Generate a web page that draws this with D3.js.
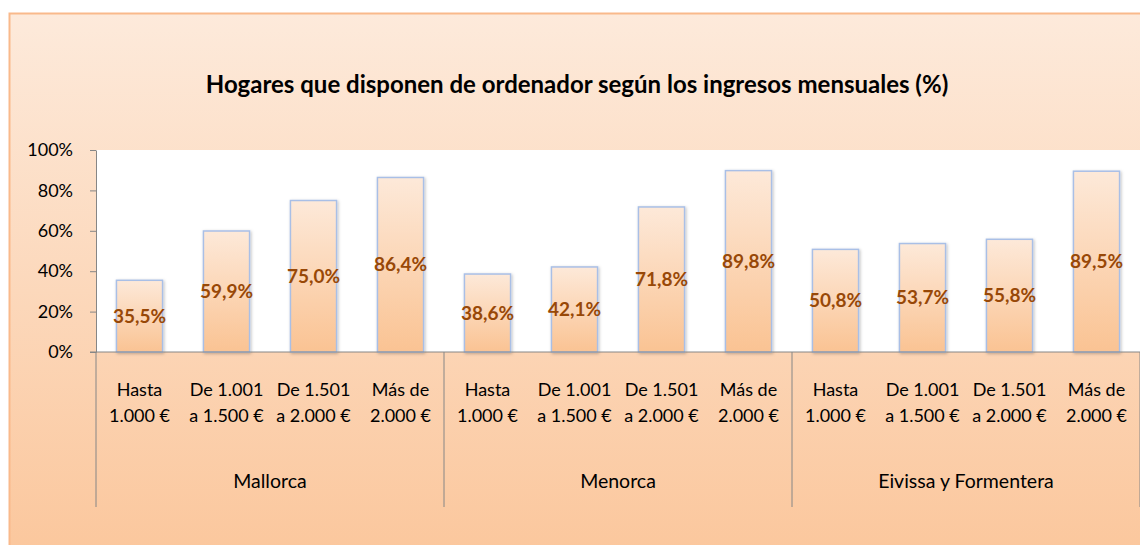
<!DOCTYPE html>
<html>
<head>
<meta charset="utf-8">
<script src="https://cdnjs.cloudflare.com/ajax/libs/d3/7.8.5/d3.min.js"></script>
<style>
  body { margin: 0; background: #fff; }
  text { font-family: Lato, "Open Sans", sans-serif; }
</style>
</head>
<body>
<script>
// data
var islands = ["Mallorca", "Menorca", "Eivissa y Formentera"];
var incomeLine1 = ["Hasta", "De 1.001", "De 1.501", "Más de"];
var incomeLine2 = ["1.000 €", "a 1.500 €", "a 2.000 €", "2.000 €"];
var mallorca = [35.5, 59.9, 75.0, 86.4];
var menorca = [38.6, 42.1, 71.8, 89.8];
var eivissa = [50.8, 53.7, 55.8, 89.5];
var yTicks = [0, 20, 40, 60, 80, 100];
var title = "Hogares que disponen de ordenador según los ingresos mensuales (%)";

var width = 1140, height = 545;
var margin = {left: 96, right: 0, top: 150, bottom: 193};

// flatten into one row per bar
var seriesByIsland = [mallorca, menorca, eivissa];
var rows = [];
islands.forEach(function(isl, gi) {
  seriesByIsland[gi].forEach(function(v, i) {
    rows.push({key: isl + "|" + i, island: isl, band: i, value: v});
  });
});

var es = d3.formatLocale({decimal: ",", thousands: ".", grouping: [3], currency: ["", " €"]});
var fmt = es.format(".1f");

var svg = d3.select("body").append("svg")
    .attr("width", width)
    .attr("height", height);

var defs = svg.append("defs");

// chart background gradient
var bg = defs.append("linearGradient").attr("id", "bgGrad")
    .attr("x1", 0).attr("y1", 0).attr("x2", 0).attr("y2", 1);
bg.append("stop").attr("offset", "0%").attr("stop-color", "#fdeadb");
bg.append("stop").attr("offset", "100%").attr("stop-color", "#fbc69b");

// bar gradient
var barGrad = defs.append("linearGradient").attr("id", "barGrad")
    .attr("x1", 0).attr("y1", 0).attr("x2", 0).attr("y2", 1);
barGrad.append("stop").attr("offset", "0%").attr("stop-color", "#fde9d9");
barGrad.append("stop").attr("offset", "100%").attr("stop-color", "#fac393");

var shadow = defs.append("filter").attr("id", "shadow")
    .attr("x", "-20%").attr("y", "-10%").attr("width", "140%").attr("height", "120%");
shadow.append("feDropShadow").attr("dx", 1).attr("dy", 1).attr("stdDeviation", 1.5)
    .attr("flood-color", "#000").attr("flood-opacity", 0.25);

// outer chart area
svg.append("rect")
    .attr("x", 9.5).attr("y", 13.5)
    .attr("width", width + 10).attr("height", height + 10)
    .attr("fill", "url(#bgGrad)")
    .attr("stroke", "#f9b98b").attr("stroke-width", 2);

// title
svg.append("text")
    .attr("x", 577).attr("y", 93)
    .attr("text-anchor", "middle")
    .style("font-size", "24px").style("font-weight", "bold")
    .attr("fill", "#000")
    .text(title);

var plotW = width - margin.left - margin.right;
var plotH = height - margin.top - margin.bottom;

var g = svg.append("g").attr("transform", "translate(" + margin.left + "," + margin.top + ")");

// white plot area
g.append("rect").attr("x", 0).attr("y", 0).attr("width", plotW).attr("height", plotH).attr("fill", "#fff");

var x = d3.scaleBand()
    .domain(rows.map(function(d) { return d.key; }))
    .range([0, plotW])
    .paddingInner(0.47)
    .paddingOuter(0.235);

var y = d3.scaleLinear().domain([0, 100]).range([plotH, 0]);

// y axis
var yAxis = g.append("g").call(d3.axisLeft(y).tickValues(yTicks).tickSize(6).tickSizeOuter(0)
    .tickFormat(function(d) { return d + "%"; }));
yAxis.select(".domain").attr("stroke", "#868686");
yAxis.selectAll(".tick line").attr("stroke", "#868686");
yAxis.selectAll(".tick text")
    .attr("x", -23)
    .style("font-size", "18px").attr("fill", "#000")
    .style("font-family", "Lato, sans-serif");

// bars
g.selectAll("rect.bar")
    .data(rows)
    .enter()
    .append("rect")
    .attr("class", "bar")
    .attr("x", function(d) { return x(d.key); })
    .attr("y", function(d) { return y(d.value); })
    .attr("width", x.bandwidth())
    .attr("height", function(d) { return plotH - y(d.value); })
    .attr("fill", "url(#barGrad)")
    .attr("stroke", "#a9bfe6").attr("stroke-width", 1.5)
    .attr("filter", "url(#shadow)");

// value labels centred in each bar
g.selectAll("text.val")
    .data(rows)
    .enter()
    .append("text")
    .attr("class", "val")
    .attr("x", function(d) { return x(d.key) + x.bandwidth() / 2; })
    .attr("y", function(d) { return (y(d.value) + plotH) / 2; })
    .attr("dy", "0.35em")
    .attr("text-anchor", "middle")
    .style("font-size", "19px").style("font-weight", "bold")
    .attr("fill", "#984807")
    .text(function(d) { return fmt(d.value) + "%"; });

// horizontal axis line
g.append("line").attr("x1", -6).attr("x2", plotW).attr("y1", plotH).attr("y2", plotH)
    .attr("stroke", "#868686");

// category labels (two lines)
var step = x.step();
var cat = g.selectAll("text.cat")
    .data(rows)
    .enter()
    .append("text")
    .attr("class", "cat")
    .attr("text-anchor", "middle")
    .style("font-size", "18px")
    .attr("fill", "#000");
cat.append("tspan")
    .attr("x", function(d) { return x(d.key) + x.bandwidth() / 2; })
    .attr("y", plotH + 44)
    .text(function(d) { return incomeLine1[d.band]; });
cat.append("tspan")
    .attr("x", function(d) { return x(d.key) + x.bandwidth() / 2; })
    .attr("y", plotH + 70)
    .text(function(d) { return incomeLine2[d.band]; });

// group separators and island names
var groupW = step * incomeLine1.length;
var seps = d3.range(islands.length + 1).map(function(i) { return i * groupW; });
g.selectAll("line.sep")
    .data(seps)
    .enter()
    .append("line")
    .attr("class", "sep")
    .attr("x1", function(d) { return d; }).attr("x2", function(d) { return d; })
    .attr("y1", plotH).attr("y2", plotH + 155)
    .attr("stroke", "#868686");

g.selectAll("text.island")
    .data(islands)
    .enter()
    .append("text")
    .attr("class", "island")
    .attr("x", function(d, i) { return i * groupW + groupW / 2; })
    .attr("y", plotH + 136)
    .attr("text-anchor", "middle")
    .style("font-size", "19.5px")
    .attr("fill", "#000")
    .text(function(d) { return d; });
</script>
</body>
</html>
